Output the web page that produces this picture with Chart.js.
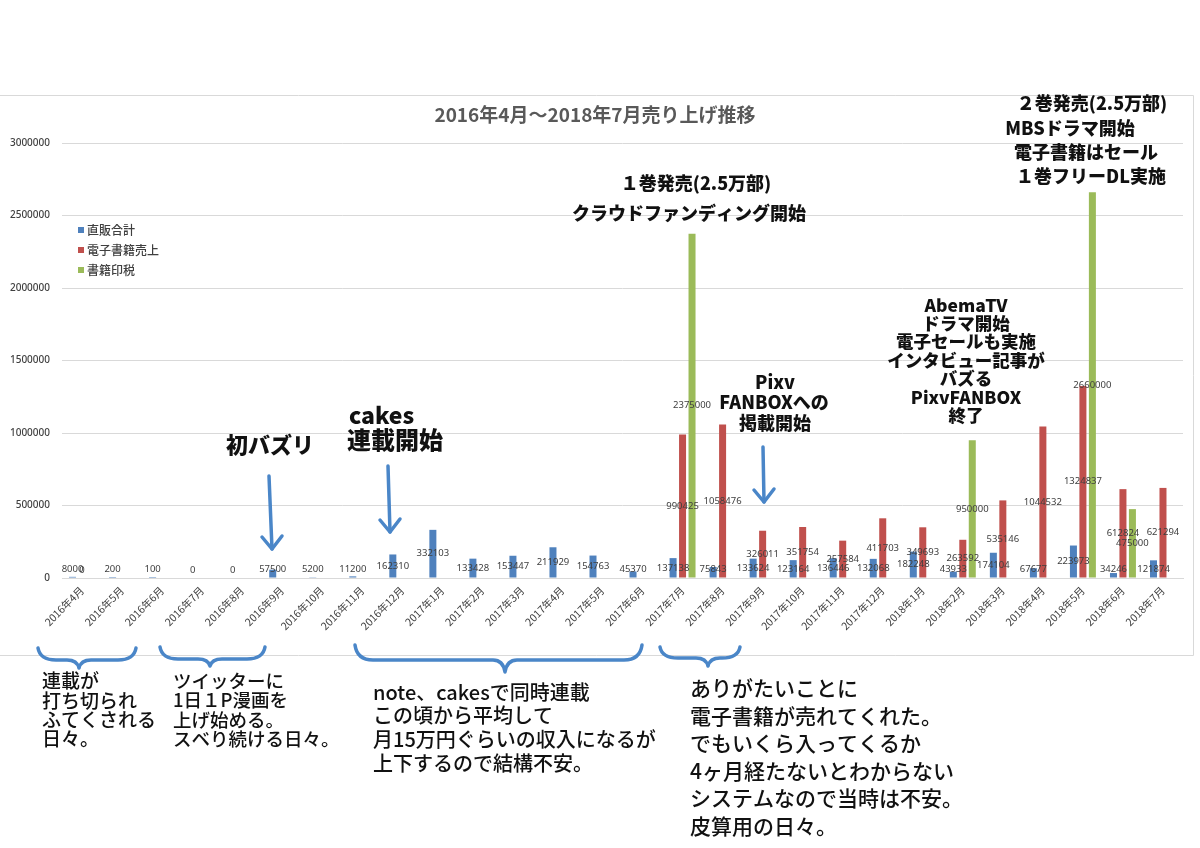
<!DOCTYPE html>
<html><head><meta charset="utf-8">
<script src="https://cdn.jsdelivr.net/npm/chart.js@4"></script>
<style>
html,body{margin:0;padding:0;background:#fff;}
#wrap{position:relative;width:1200px;height:848px;}
</style></head>
<body><div id="wrap"><canvas id="c"></canvas></div>
<script>
const categories = ['2016年4月','2016年5月','2016年6月','2016年7月','2016年8月','2016年9月','2016年10月','2016年11月','2016年12月',
  '2017年1月','2017年2月','2017年3月','2017年4月','2017年5月','2017年6月','2017年7月','2017年8月','2017年9月','2017年10月','2017年11月','2017年12月',
  '2018年1月','2018年2月','2018年3月','2018年4月','2018年5月','2018年6月','2018年7月'];
const directSales = [8000,200,100,0,0,57500,5200,11200,162310,332103,133428,153447,211929,154763,45370,137138,75843,133624,123164,136446,132068,182248,43933,174104,67677,223973,34246,121874];
const ebookSales = [0,null,null,null,null,null,null,null,null,null,null,null,null,null,null,990425,1058476,326011,351754,257584,411703,349693,263592,535146,1044532,1324837,612824,621294];
const bookRoyalty = [null,null,null,null,null,null,null,null,null,null,null,null,null,null,null,2375000,null,null,null,null,null,null,950000,null,null,2660000,475000,null];
const seriesNames = ['直販合計','電子書籍売上','書籍印税'];
const yMax = 3000000, yStep = 500000;
const chartTitle = '2016年4月～2018年7月売り上げ推移';

const colors = ['#4f81bd','#c0504d','#9bbb59'];
const JP = '"Noto Sans CJK JP","Noto Sans",sans-serif';

const labelPlugin = {
  id:'barLabels',
  afterDatasetsDraw(chart){
    const ctx = chart.ctx;
    ctx.save();
    ctx.font = '9.5px "Noto Sans",sans-serif';
    ctx.fillStyle = '#404040';
    ctx.textAlign = 'center';
    ctx.textBaseline = 'middle';
    chart.data.datasets.forEach((ds,i)=>{
      const meta = chart.getDatasetMeta(i);
      meta.data.forEach((el,j)=>{
        const v = ds.data[j];
        if (v === null || v === undefined) return;
        let y = (el.y + el.base)/2;
        y = Math.min(y, el.base - 8);
        ctx.fillText(String(v), el.x, y);
      });
    });
    ctx.restore();
  }
};

const decoPlugin = {
  id:'deco',
  beforeDraw(chart){
    const ctx = chart.ctx;
    ctx.save();
    ctx.strokeStyle = '#d9d9d9';
    ctx.lineWidth = 1;
    ctx.beginPath();
    ctx.moveTo(0,95.5); ctx.lineTo(1193.5,95.5); ctx.lineTo(1193.5,655.5); ctx.lineTo(0,655.5);
    ctx.stroke();
    ctx.restore();
  },
  afterDraw(chart){
    const ctx = chart.ctx;
    ctx.save();
    // title
    ctx.fillStyle = '#595959';
    ctx.font = 'bold 19px '+JP;
    ctx.textAlign='center'; ctx.textBaseline='middle';
    ctx.fillText(chartTitle, 595, 115);
    // legend
    ctx.textAlign='left';
    ctx.font = '500 12px '+JP;
    chart.data.datasets.forEach((ds,i)=>{
      const y = 230 + i*20;
      ctx.fillStyle = ds.backgroundColor;
      ctx.fillRect(78, y-3, 6, 6);
      ctx.fillStyle = '#404040';
      ctx.fillText(ds.label, 87, y);
    });
    // annotations (bold)
    ctx.fillStyle = '#111';
    ctx.textAlign='center';
    const T = (s,x,y,size,w)=>{ ctx.font = (w||'bold')+' '+size+'px '+JP; ctx.fillText(s,x,y); };
    T('初バズリ',270,445,22,'900');
    ctx.textAlign='left';
    T('cakes',349,415,23,'900');
    T('連載開始',347,440,24,'900');
    ctx.textAlign='center';
    T('１巻発売(2.5万部)',696,183,18,'900');
    T('クラウドファンディング開始',689,213,18,'900');
    T('２巻発売(2.5万部)',1092,103,18,'900');
    T('MBSドラマ開始',1070,128,18,'900');
    T('電子書籍はセール',1086,152,18,'900');
    T('１巻フリーDL実施',1091,176,18,'900');
    T('Pixv',775,382,18,'900');
    T('FANBOXへの',774,402,18,'900');
    T('掲載開始',775,423,18,'900');
    const ab = ['AbemaTV','ドラマ開始','電子セールも実施','インタビュー記事が','バズる','PixvFANBOX','終了'];
    ab.forEach((s,i)=>T(s,966,305+i*18.4,17.5,'900'));
    // lower text blocks
    ctx.textAlign='left';
    ctx.fillStyle='#111';
    const B = (lines,x,y0,dy,size,w)=>{ ctx.font=(w||'normal')+' '+size+'px '+JP; lines.forEach((s,i)=>ctx.fillText(s,x,y0+i*dy)); };
    B(['連載が','打ち切られ','ふてくされる','日々。'],42,681,19.3,19,'500');
    B(['ツイッターに','1日１P漫画を','上げ始める。','スベり続ける日々。'],173,681,19.3,18.5,'500');
    B(['note、cakesで同時連載','この頃から平均して','月15万円ぐらいの収入になるが','上下するので結構不安。'],373,692,23.8,20,'500');
    B(['ありがたいことに','電子書籍が売れてくれた。','でもいくら入ってくるか','4ヶ月経たないとわからない','システムなので当時は不安。','皮算用の日々。'],690,688,27.6,21,'500');
    // blue arrows
    ctx.strokeStyle = '#4a86c8';
    ctx.lineWidth = 3.5; ctx.lineCap='round'; ctx.lineJoin='round';
    const arrow = (x1,y1,x2,y2)=>{
      ctx.beginPath(); ctx.moveTo(x1,y1); ctx.lineTo(x2,y2); ctx.stroke();
      ctx.beginPath(); ctx.moveTo(x2-10,y2-12); ctx.lineTo(x2,y2); ctx.lineTo(x2+10,y2-13); ctx.stroke();
    };
    arrow(269,476,272,549);
    arrow(388,466,390,532);
    arrow(763,447,764,502);
    // braces
    const brace = (x1,x2,xt,ytop,ymid,ytip)=>{
      ctx.beginPath();
      ctx.moveTo(x1,ytop);
      ctx.quadraticCurveTo(x1+2,ymid,x1+18,ymid);
      ctx.lineTo(xt-12,ymid);
      ctx.quadraticCurveTo(xt-2,ymid,xt,ytip);
      ctx.quadraticCurveTo(xt+2,ymid,xt+12,ymid);
      ctx.lineTo(x2-18,ymid);
      ctx.quadraticCurveTo(x2-2,ymid,x2,ytop);
      ctx.stroke();
    };
    brace(38,136,79,648,660,668);
    brace(160,265,210,647,659,666);
    brace(355,642,505,645,660,672);
    brace(660,740,708,647,658,666);
    ctx.restore();
  }
};

new Chart(document.getElementById('c'), {
  type:'bar',
  data:{
    labels: categories,
    datasets:[
      {label:seriesNames[0], data:directSales, backgroundColor:colors[0]},
      {label:seriesNames[1], data:ebookSales, backgroundColor:colors[1]},
      {label:seriesNames[2], data:bookRoyalty, backgroundColor:colors[2]}
    ]
  },
  options:{
    responsive:true, maintainAspectRatio:false, animation:false,
    devicePixelRatio: 1,
    categoryPercentage:0.71, barPercentage:0.74,
    layout:{padding:{left:0, top:143, right:17, bottom:195}},
    plugins:{legend:{display:false}, title:{display:false}, tooltip:{enabled:false}},
    scales:{
      x:{
        grid:{display:false, drawTicks:false},
        border:{display:true, color:'#d9d9d9'},
        ticks:{maxRotation:45, minRotation:45, autoSkip:false, padding:6, color:'#404040', font:{size:10.5, family:JP}},
        afterFit(s){ s.height = 75; }
      },
      y:{
        min:0, max:yMax,
        grid:{color:'#d9d9d9', drawTicks:false},
        border:{display:false},
        ticks:{stepSize:yStep, padding:12, color:'#404040', font:{size:10, weight:'500', family:'"Noto Sans",sans-serif'},
          callback:(v)=>String(v)},
        afterFit(s){ s.width = 62; }
      }
    }
  },
  plugins:[labelPlugin, decoPlugin]
});
</script></body></html>
